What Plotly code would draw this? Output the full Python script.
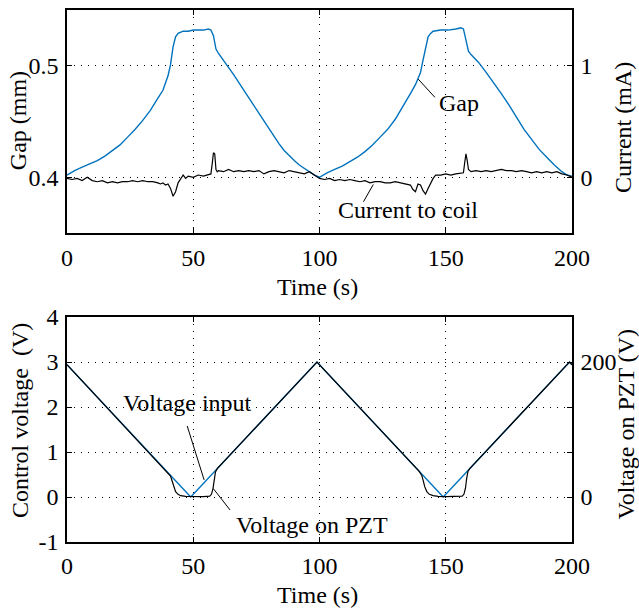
import plotly.graph_objects as go

# ---------------- data ----------------
gap_t = [0, 3, 6, 9, 12, 15, 18, 21, 24, 27, 30, 33, 36, 38, 40, 41, 42, 43, 44, 45, 46, 48, 50, 52, 54, 56, 57, 58, 59, 60,
         62, 64, 66, 68, 70, 72, 74, 76, 78, 80, 82, 84, 86, 88, 90, 92, 94, 96, 98, 100,
         103, 106, 109, 112, 115, 118, 121, 124, 127, 130, 133, 136, 138, 139, 140, 141, 142, 143, 144, 145, 148, 151, 154, 156, 157, 158, 159,
         160, 163, 166, 169, 172, 175, 178, 181, 184, 187, 190, 193, 196, 198, 200]
gap_mm = [0.402, 0.406, 0.409, 0.412, 0.415, 0.419, 0.424, 0.429, 0.436, 0.443, 0.451, 0.460, 0.471, 0.478, 0.491, 0.501, 0.517, 0.526, 0.529, 0.530, 0.531, 0.531, 0.532, 0.532, 0.532, 0.533, 0.532, 0.527, 0.515, 0.511,
          0.505, 0.499, 0.492, 0.485, 0.478, 0.471, 0.464, 0.457, 0.450, 0.443, 0.436, 0.430, 0.424, 0.419, 0.415, 0.411, 0.408, 0.405, 0.402, 0.400,
          0.404, 0.407, 0.410, 0.414, 0.418, 0.423, 0.429, 0.436, 0.443, 0.452, 0.463, 0.475, 0.483, 0.488, 0.494, 0.505, 0.516, 0.526, 0.529, 0.531, 0.532, 0.532, 0.533, 0.534, 0.533, 0.524, 0.513,
          0.510, 0.503, 0.494, 0.485, 0.475, 0.465, 0.454, 0.443, 0.434, 0.425, 0.418, 0.411, 0.405, 0.402, 0.401]

cur_t = [0, 2, 4, 6, 8, 10, 12, 14, 16, 18, 20, 22, 24, 26, 28, 30, 32, 34, 36, 37, 38, 39, 40, 41, 42, 43, 44, 45, 46, 47, 48,
         50, 52, 54, 56, 57, 57.5, 58, 58.5, 59, 59.5, 60, 62, 64, 66, 68, 70, 72, 74, 76, 78, 80, 82, 84, 86, 88, 90, 92, 94, 96, 98, 100,
         102, 104, 106, 108, 110, 112, 114, 116, 118, 120, 122, 124, 126, 128, 130, 132, 134, 136, 137, 138, 139, 140, 141, 142, 143, 144, 145, 146,
         148, 150, 152, 154, 156, 157, 157.5, 158, 158.5, 159, 160, 162, 164, 166, 168, 170, 172, 174, 176, 178, 180, 182, 184, 186, 188, 190,
         192, 194, 196, 198, 200]
cur_ma = [-0.01, -0.02, -0.01, -0.03, -0.00, -0.03, -0.04, -0.03, -0.05, -0.04, -0.05, -0.04, -0.04, -0.03, -0.04, -0.03, -0.04, -0.04, -0.05, -0.06, -0.05, -0.07, -0.06, -0.10, -0.17, -0.13, -0.05, -0.02, 0.02, -0.01, 0.01,
          0.00, 0.02, 0.01, 0.02, 0.03, 0.12, 0.22, 0.21, 0.07, 0.05, 0.06, 0.05, 0.07, 0.05, 0.06, 0.05, 0.06, 0.05, 0.06, 0.03, 0.05, 0.06, 0.05, 0.04, 0.06, 0.05, 0.04, 0.03, 0.05, 0.02, -0.01,
          -0.02, -0.01, -0.03, -0.02, -0.03, -0.02, -0.03, -0.04, -0.03, -0.05, -0.04, -0.04, -0.05, -0.05, -0.04, -0.05, -0.06, -0.07, -0.11, -0.13, -0.06, -0.07, -0.12, -0.15, -0.10, -0.05, -0.01, 0.02,
          0.02, 0.03, 0.02, 0.03, 0.04, 0.04, 0.13, 0.21, 0.15, 0.07, 0.05, 0.06, 0.05, 0.06, 0.05, 0.06, 0.07, 0.06, 0.06, 0.05, 0.06, 0.05, 0.04, 0.05, 0.04, 0.05,
          0.04, 0.05, 0.03, 0.02, 0.00]

vin_t = [0, 49, 99, 149, 199, 200]
vin_v = [2.94, 0.0, 3.0, 0.0, 3.0, 2.94]

pzt_t = [0, 40, 41, 41.6, 42.2, 43, 44, 45, 47, 50, 54, 56.5, 57.2, 57.8, 58.3, 58.8, 59.5, 99,
         139.5, 140.5, 141.1, 141.7, 142.5, 143.5, 145, 147, 150, 154, 156.5, 157.2, 157.8, 158.3, 158.8, 159.5, 199, 200]
pzt_v = [196, 36, 31, 24, 16, 8, 4, 2, 1, 0.7, 0.7, 1.3, 4, 12, 26, 37, 42, 200,
         38, 32, 24, 15, 8, 4, 2, 1, 0.7, 0.7, 1.3, 4, 13, 28, 38, 42, 200, 196]

x_ticks = [0, 50, 100, 150, 200]
gap_ticks = [0.4, 0.5]
gap_tick_text = ["0.4", "0.5"]
cur_ticks = [0, 1]
cv_ticks = [-1, 0, 1, 2, 3, 4]
cv_tick_text = ["-1", "0", "1", "2", "3", "4"]
pzt_ticks = [0, 200]

# ---------------- figure ----------------
BLUE = "#0072BD"
FONT = "Liberation Serif"

fig = go.Figure()
fig.add_trace(go.Scatter(x=gap_t, y=gap_mm, mode="lines", line=dict(color=BLUE, width=1.4),
                         xaxis="x", yaxis="y", showlegend=False))
fig.add_trace(go.Scatter(x=cur_t, y=cur_ma, mode="lines", line=dict(color="black", width=1.2),
                         xaxis="x", yaxis="y2", showlegend=False))
fig.add_trace(go.Scatter(x=vin_t, y=vin_v, mode="lines", line=dict(color=BLUE, width=1.4),
                         xaxis="x2", yaxis="y3", showlegend=False))
fig.add_trace(go.Scatter(x=pzt_t, y=pzt_v, mode="lines", line=dict(color="black", width=1.2),
                         xaxis="x2", yaxis="y4", showlegend=False))

grid = dict(showgrid=True, gridcolor="black", gridwidth=1, griddash="1px,6px", zeroline=False)
frame = dict(showline=True, linecolor="black", linewidth=1.5, ticks="inside", ticklen=5,
             tickcolor="black", tickwidth=1, automargin=False)

TOP_DOM = [0.5808, 1.0]
BOT_DOM = [0.0, 0.4229]

fig.update_layout(
    template="none",
    width=639, height=608,
    margin=dict(l=67, r=67, t=10, b=66, autoexpand=False),
    paper_bgcolor="white", plot_bgcolor="white",
    font=dict(family=FONT, size=24, color="black"),
    xaxis=dict(domain=[0, 1], anchor="y", range=[0, 200], tickvals=x_ticks, mirror="ticks",
               ticklabelstandoff=2, **frame, **grid),
    yaxis=dict(domain=TOP_DOM, anchor="x", range=[0.35, 0.55], tickvals=gap_ticks, ticktext=gap_tick_text,
               mirror="ticks", ticklabelstandoff=2, **frame, **grid),
    yaxis2=dict(overlaying="y", anchor="x", side="right", range=[-0.5, 1.5], tickvals=cur_ticks,
                showgrid=False, zeroline=False, ticklabelstandoff=2, **frame),
    xaxis2=dict(domain=[0, 1], anchor="y3", range=[0, 200], tickvals=x_ticks, mirror="ticks",
                ticklabelstandoff=1, **frame, **grid),
    yaxis3=dict(domain=BOT_DOM, anchor="x2", range=[-1, 4], tickvals=cv_ticks, ticktext=cv_tick_text,
                mirror="ticks", ticklabelstandoff=2, **frame, **grid),
    yaxis4=dict(overlaying="y3", anchor="x2", side="right", range=[-200 / 3, 800 / 3], tickvals=pzt_ticks,
                showgrid=False, zeroline=False, ticklabelstandoff=2, **frame),
)

# leader lines
lines = [
    dict(xref="x", yref="y", x0=139.1, y0=0.488, x1=145.7, y1=0.4717),
    dict(xref="x", yref="y", x0=121.3, y0=0.3935, x1=117.4, y1=0.378),
    dict(xref="x2", yref="y3", x0=47.6, y0=1.58, x1=54.3, y1=0.38),
    dict(xref="x2", yref="y3", x0=57.9, y0=0.19, x1=64.6, y1=-0.29),
]
for l in lines:
    fig.add_shape(type="line", line=dict(color="black", width=1), **l)

labels = [
    dict(text="Gap", xref="x", yref="y", x=146.5, y=0.467, xanchor="left"),
    dict(text="Current to coil", xref="x", yref="y", x=135.2, y=0.3705, xanchor="center"),
    dict(text="Voltage input", xref="x2", yref="y3", x=47.9, y=2.09, xanchor="center"),
    dict(text="Voltage on PZT", xref="x2", yref="y3", x=96.9, y=-0.62, xanchor="center"),
    # axis titles
    dict(text="Gap (mm)", xref="paper", yref="paper", x=-0.097, y=0.791, textangle=-90, xanchor="center"),
    dict(text="Current (mA)", xref="paper", yref="paper", x=1.101, y=0.778, textangle=-90, xanchor="center"),
    dict(text="Time (s)", xref="paper", yref="paper", x=0.497, y=0.479, xanchor="center"),
    dict(text="Control voltage\u00a0 (V)", xref="paper", yref="paper", x=-0.093, y=0.2274, textangle=-90, xanchor="center"),
    dict(text="Voltage on PZT (V)", xref="paper", yref="paper", x=1.106, y=0.22, textangle=-90, xanchor="center"),
    dict(text="Time (s)", xref="paper", yref="paper", x=0.497, y=-0.0996, xanchor="center"),
]
for a in labels:
    fig.add_annotation(showarrow=False, yanchor="middle", font=dict(family=FONT, size=24, color="black"), **a)

fig.write_html("out.html", config={"displayModeBar": False},
               post_script="document.body.style.margin='0';document.body.style.overflow='hidden';")
